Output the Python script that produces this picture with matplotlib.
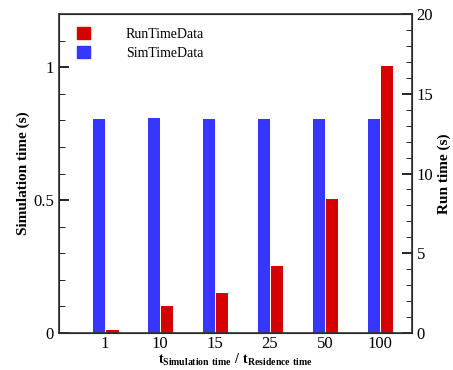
import matplotlib
matplotlib.use('Agg')
import matplotlib.pyplot as plt
from matplotlib.ticker import MultipleLocator
from matplotlib.patches import Patch
import numpy as np

# Simulation length ratios and measured times
ratios = ['1', '10', '15', '25', '50', '100']
sim_time = [0.805, 0.81, 0.805, 0.805, 0.805, 0.805]   # s, left axis
run_time = [0.2, 1.7, 2.5, 4.2, 8.4, 16.75]            # s, right axis

plt.rcParams['font.family'] = ['Liberation Serif', 'DejaVu Serif']
plt.rcParams['mathtext.fontset'] = 'custom'
plt.rcParams['mathtext.rm'] = 'Liberation Serif'
plt.rcParams['mathtext.bf'] = 'Liberation Serif:bold'

BLUE = '#3636ff'
RED = '#d60000'

fig = plt.figure(figsize=(4.53, 3.70), dpi=100)
ax1 = fig.add_axes([0.130, 0.100, 0.779, 0.862])
ax2 = ax1.twinx()

x = np.arange(len(ratios))
w = 0.23

ax1.bar(x - 0.11, sim_time, width=w, color=BLUE)
ax2.bar(x + 0.13, run_time, width=w, color=RED)

ax1.set_xlim(-0.84, 5.58)
ax1.set_ylim(0, 1.2)
ax2.set_ylim(0, 20)

ax1.set_xticks(x)
ax1.set_xticklabels(ratios)
ax1.tick_params(axis='x', length=0, labelsize=12, pad=2)

ax1.yaxis.set_minor_locator(MultipleLocator(0.1))
ax1.set_yticks([0, 0.5, 1])
ax1.set_yticklabels(['0', '0.5', '1'])
ax1.tick_params(axis='y', which='major', direction='in', length=7, width=1.2, labelsize=12)
ax1.tick_params(axis='y', which='minor', direction='in', length=4, width=0.6)

ax2.yaxis.set_major_locator(MultipleLocator(5))
ax2.yaxis.set_minor_locator(MultipleLocator(1))
ax2.tick_params(axis='y', which='major', direction='in', length=7, width=1.2, labelsize=12)
ax2.tick_params(axis='y', which='minor', direction='in', length=4, width=0.6)

for sp in ax2.spines.values():
    sp.set_linewidth(1.2)
    sp.set_color('#333333')

ax1.set_ylabel('Simulation time (s)', fontsize=11, fontweight='bold', labelpad=2)
ax2.set_ylabel('Run time (s)', fontsize=11, fontweight='bold', labelpad=3)
ax1.set_xlabel(r'$\mathbf{t_{Simulation\ time}\ /\ t_{Residence\ time}}$', fontsize=10, labelpad=0)

handles = [Patch(color=RED), Patch(color=BLUE)]
ax1.legend(handles, ['RunTimeData', 'SimTimeData'], loc='upper left', frameon=False,
           fontsize=10, handlelength=0.9, handleheight=1.0, handletextpad=2.6,
           labelspacing=0.35, borderaxespad=0.4, bbox_to_anchor=(0.02, 0.995))

fig.savefig('out.png', dpi=100)
